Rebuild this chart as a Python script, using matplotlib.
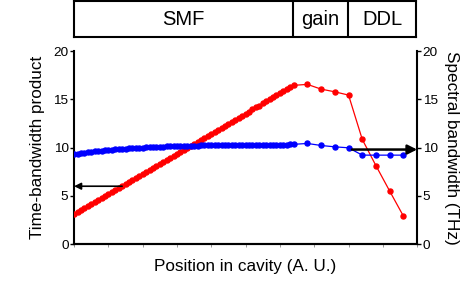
import matplotlib
matplotlib.use("Agg")
import matplotlib.pyplot as plt

plt.rcParams['font.family'] = ['Liberation Sans', 'DejaVu Sans']

# SMF section, dense sampling (position 0 .. 6.4, step 0.1)
smf_pos = [i / 10 for i in range(65)]
smf_tbp = [3.10, 3.31, 3.52, 3.73, 3.93, 4.14, 4.35, 4.56, 4.77, 4.98,
           5.19, 5.39, 5.60, 5.81, 6.02, 6.23, 6.44, 6.65, 6.85, 7.06,
           7.27, 7.48, 7.69, 7.90, 8.11, 8.32, 8.52, 8.73, 8.94, 9.15,
           9.36, 9.57, 9.78, 9.98, 10.19, 10.40, 10.61, 10.82, 11.03, 11.24,
           11.44, 11.65, 11.86, 12.07, 12.28, 12.49, 12.70, 12.90, 13.11, 13.32,
           13.53, 13.74, 13.95, 14.16, 14.36, 14.57, 14.78, 14.99, 15.20, 15.41,
           15.62, 15.82, 16.03, 16.24, 16.45]
smf_bw = [9.30, 9.36, 9.41, 9.46, 9.51, 9.55, 9.60, 9.64, 9.68, 9.71,
          9.75, 9.78, 9.81, 9.84, 9.87, 9.89, 9.92, 9.94, 9.96, 9.98,
          10.00, 10.02, 10.04, 10.06, 10.07, 10.09, 10.10, 10.12, 10.13, 10.14,
          10.15, 10.16, 10.17, 10.18, 10.19, 10.20, 10.21, 10.22, 10.22, 10.23,
          10.24, 10.24, 10.25, 10.25, 10.26, 10.26, 10.27, 10.27, 10.28, 10.28,
          10.28, 10.29, 10.29, 10.29, 10.30, 10.30, 10.30, 10.31, 10.31, 10.31,
          10.31, 10.32, 10.32, 10.33, 10.34]

# gain and DDL sections
rest_pos = [6.8, 7.2, 7.6, 8.0, 8.4, 8.8, 9.2, 9.6]
rest_tbp = [16.55, 16.06, 15.78, 15.44, 10.85, 8.12, 5.49, 2.90]
rest_bw = [10.43, 10.22, 10.08, 9.98, 9.22, 9.22, 9.22, 9.22]

sections = ["SMF", "gain", "DDL"]
section_edges = [0, 6.4, 8.0, 10]

pos = smf_pos + rest_pos
tbp = smf_tbp + rest_tbp
bw = smf_bw + rest_bw

fig = plt.figure(figsize=(4.63, 2.97), dpi=100)
ax = fig.add_axes([0.16, 0.178, 0.741, 0.65])
ax2 = ax.twinx()

ax.plot(pos, tbp, color='red', lw=0.9, marker='o', ms=3.6, mec='red', zorder=3)
ax.plot(pos, bw, color='blue', lw=0.9, marker='o', ms=3.6, mec='blue', zorder=3)

ax.annotate('', xy=(0, 6.0), xytext=(1.4, 6.0),
            arrowprops=dict(arrowstyle='-|>', color='black', lw=1.2,
                            mutation_scale=10, shrinkA=0, shrinkB=0))
ax.annotate('', xy=(10, 9.8), xytext=(8.1, 9.8),
            arrowprops=dict(arrowstyle='-|>', color='black', lw=1.8,
                            mutation_scale=14, shrinkA=0, shrinkB=0))

for a in (ax, ax2):
    a.set_xlim(0, 10)
    a.set_ylim(0, 20)
    a.set_yticks([0, 5, 10, 15, 20])
    a.spines['top'].set_visible(False)
    for s in a.spines.values():
        s.set_linewidth(1.5)
    a.tick_params(axis='y', length=3, width=1, labelsize=9.7, pad=1)

ax.spines['right'].set_visible(False)
ax2.spines['left'].set_visible(False)
ax.set_xticks([i for i in range(11)])
ax.set_xticklabels([])
ax.tick_params(axis='x', length=2, width=0.6, color='#888888')
ax2.tick_params(axis='x', bottom=False)

ax.set_ylabel('Time-bandwidth product', fontsize=12.3, labelpad=6)
ax2.set_ylabel('Spectral bandwidth (THz)', fontsize=12.3, rotation=270, labelpad=15)
ax.set_xlabel('Position in cavity (A. U.)', fontsize=12.3, labelpad=5)

# section box on top
bx = fig.add_axes([0.16, 0.875, 0.739, 0.12])
bx.set_xlim(0, 10)
bx.set_ylim(0, 1)
bx.set_xticks([])
bx.set_yticks([])
for s in bx.spines.values():
    s.set_linewidth(1.5)
for i, name in enumerate(sections):
    lo, hi = section_edges[i], section_edges[i + 1]
    if i > 0:
        bx.axvline(lo, color='black', lw=1.5)
    bx.text((lo + hi) / 2, 0.5, name, ha='center', va='center', fontsize=14.5)

fig.savefig('out.png', dpi=100)
